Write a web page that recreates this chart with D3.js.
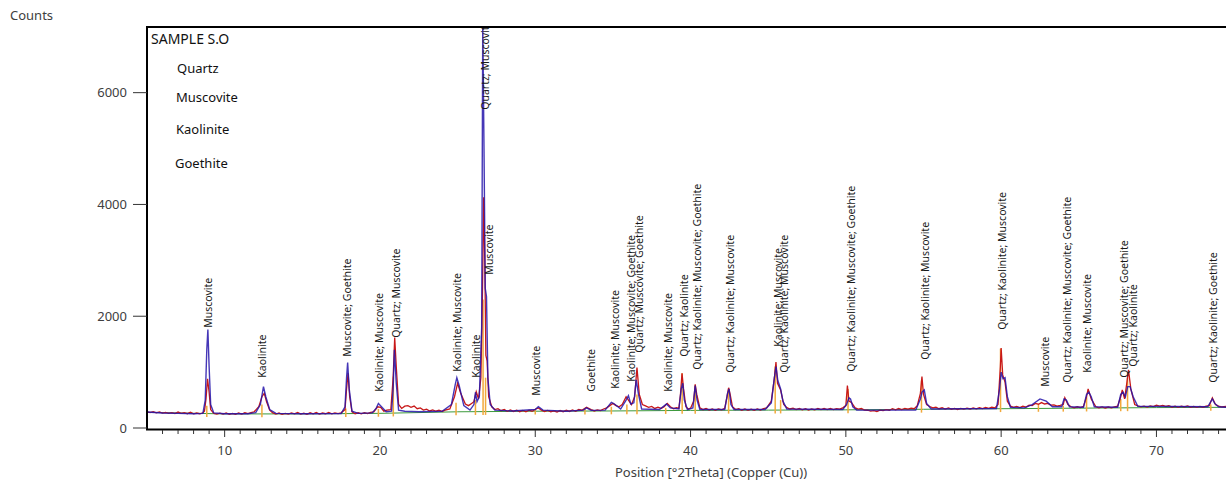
<!DOCTYPE html>
<html>
<head>
<meta charset="utf-8">
<script src="https://cdn.jsdelivr.net/npm/d3@7"></script>
<style>
  body { margin: 0; background: #fff; }
  svg { display: block; font-family: "Noto Sans", "Open Sans", sans-serif; }
  .axis text { fill: #404040; font-size: 13px; }
  .peak-label { font-size: 10.5px; fill: #1a1a1a; }
  .legend text { fill: #111; font-size: 13px; }
</style>
</head>
<body>
<div id="chart"></div>
<script>
// observed pattern (red), [2theta, counts]
const observed = [
  [5.0,290],[5.2,276],[5.4,292],[5.6,270],[5.8,288],[6.0,266],[6.2,280],[6.4,262],[6.6,276],[6.8,258],
  [7.0,285],[7.2,262],[7.4,274],[7.6,256],[7.8,282],[8.0,252],[8.2,268],[8.4,255],[8.6,272],
  [8.7,300],[8.8,520],[8.9,880],[9.0,640],[9.1,330],[9.3,262],[9.5,248],[9.7,266],[9.9,250],[10.1,270],
  [10.3,246],[10.5,262],[10.7,244],[10.9,268],[11.1,250],[11.3,272],[11.5,256],[11.7,275],
  [11.9,290],[12.2,380],[12.4,560],[12.55,620],[12.7,470],[12.9,320],[13.1,270],[13.3,250],[13.5,268],[13.7,246],
  [13.9,262],[14.1,248],[14.3,270],[14.5,252],[14.7,276],[14.9,250],[15.1,266],[15.3,246],[15.5,272],[15.7,254],
  [15.9,276],[16.1,250],[16.3,268],[16.5,255],[16.7,280],[16.9,252],[17.1,270],[17.3,256],[17.5,272],
  [17.75,330],[17.85,700],[17.95,980],[18.05,560],[18.2,290],[18.4,256],[18.6,272],[18.8,254],[19.0,276],[19.2,258],
  [19.4,280],[19.6,290],[19.85,380],[20.05,370],[20.25,300],[20.45,320],[20.7,330],[20.85,900],[20.95,1620],
  [21.05,1100],[21.2,420],[21.4,350],[21.6,390],[21.8,400],[22.0,370],[22.2,392],[22.4,345],[22.6,360],[22.8,322],
  [23.0,338],[23.2,305],[23.4,325],[23.6,300],[23.8,318],[24.0,296],[24.2,320],[24.5,340],
  [24.8,560],[25.0,800],[25.2,620],[25.5,430],[25.7,400],[25.9,440],[26.05,470],[26.2,650],[26.35,520],[26.5,900],[26.6,2400],
  [26.68,4130],[26.75,3000],[26.82,1300],[26.9,1200],[27.0,560],[27.2,380],[27.4,330],[27.6,345],[27.8,310],[28.0,330],
  [28.2,300],[28.4,322],[28.6,296],[28.8,318],[29.0,292],[29.2,314],[29.4,290],[29.6,318],[29.8,300],[30.0,335],
  [30.2,360],[30.4,320],[30.6,296],[30.8,315],[31.0,288],[31.2,306],[31.4,285],[31.6,312],[31.8,292],[32.0,318],
  [32.2,296],[32.4,322],[32.6,300],[32.8,330],[33.0,318],[33.3,370],[33.6,330],[33.8,305],[34.0,325],[34.2,310],
  [34.4,340],[34.6,360],[34.8,400],[35.0,440],[35.2,400],[35.4,380],[35.6,420],[35.85,560],[36.0,500],[36.2,420],
  [36.4,560],[36.55,1080],[36.7,600],[36.9,420],[37.1,395],[37.3,370],[37.5,385],[37.7,350],[37.9,372],[38.1,350],
  [38.3,380],[38.5,440],[38.7,380],[38.9,345],[39.1,362],[39.25,350],[39.35,600],[39.45,980],[39.55,700],
  [39.7,380],[39.85,340],[40.0,355],[40.2,480],[40.3,780],[40.4,600],[40.6,360],[40.8,328],[41.0,348],[41.2,322],
  [41.4,342],[41.6,318],[41.8,340],[42.0,325],[42.2,350],[42.35,560],
  [42.45,720],[42.55,600],[42.7,380],[42.9,330],[43.1,346],[43.3,318],[43.5,340],[43.7,315],[43.9,338],[44.1,318],
  [44.3,342],[44.5,322],[44.7,348],[44.9,360],[45.2,480],[45.4,900],[45.5,1180],[45.6,800],
  [45.8,680],[46.0,420],[46.2,365],[46.4,340],[46.6,356],[46.8,330],[47.0,348],[47.2,325],[47.4,345],[47.6,322],
  [47.8,340],[48.0,326],[48.2,350],[48.4,328],[48.6,348],[48.8,330],[49.0,352],[49.2,330],[49.4,345],[49.6,336],
  [49.8,360],[50.0,400],[50.1,760],[50.2,480],[50.35,460],[50.6,360],[50.8,338],[51.0,348],[51.2,320],[51.4,318],
  [51.6,302],[51.8,312],[52.0,296],[52.2,318],[52.4,310],[52.6,330],[52.8,318],[53.0,345],[53.2,326],[53.4,348],
  [53.6,330],[53.8,352],[54.0,336],[54.2,356],[54.4,345],[54.6,400],
  [54.8,620],[54.9,920],[55.0,600],[55.2,420],[55.4,385],[55.6,360],[55.8,372],[56.0,345],[56.2,362],[56.4,340],
  [56.6,358],[56.8,336],[57.0,352],[57.2,332],[57.4,350],[57.6,338],[57.8,356],[58.0,340],[58.2,360],[58.4,342],
  [58.6,362],[58.8,346],[59.0,366],[59.2,350],[59.4,372],[59.6,360],
  [59.8,420],[59.95,1100],[60.0,1430],[60.1,950],[60.25,820],[60.4,480],[60.6,390],[60.8,370],[61.0,385],[61.2,365],
  [61.4,390],[61.6,375],[61.8,410],[62.0,400],[62.2,440],[62.4,425],[62.6,455],[62.8,430],[63.0,440],[63.2,410],
  [63.4,415],[63.6,392],[63.8,405],[64.0,420],[64.1,540],[64.3,420],[64.5,380],[64.7,362],[64.9,380],[65.1,366],
  [65.3,385],[65.5,560],[65.6,700],[65.8,520],
  [66.1,380],[66.3,362],[66.5,378],[66.7,358],[66.9,375],[67.1,362],[67.3,380],[67.5,390],[67.7,560],[67.8,680],
  [67.95,520],[68.1,820],[68.2,1040],[68.35,700],[68.6,420],[68.8,395],[69.0,378],[69.2,392],[69.4,375],[69.6,396],
  [69.8,382],[70.0,410],[70.2,392],[70.4,405],[70.6,385],[70.8,398],[71.0,372],[71.2,390],[71.4,370],[71.6,392],
  [71.8,376],[72.0,396],[72.2,372],[72.4,388],[72.6,368],[72.8,386],[73.0,372],[73.2,392],[73.4,400],[73.6,540],
  [73.8,420],[74.0,392],[74.2,378],[74.5,385]
];

// calculated profile (blue)
const calculated = [
  [5.0,285],[6.0,268],[7.0,262],[8.0,256],[8.6,262],[8.75,500],[8.85,1400],[8.92,1760],[9.0,1100],[9.1,420],
  [9.3,270],[10,255],[11.5,255],[12.0,275],[12.3,420],[12.5,740],[12.65,560],[12.9,330],[13.3,262],[15,255],
  [17.5,258],[17.75,380],[17.85,900],[17.92,1170],[18.02,700],[18.2,300],[18.6,262],[19.5,270],[19.75,350],[19.9,440],
  [20.1,380],[20.4,290],[20.75,300],[20.85,700],[20.93,1400],[21.05,800],[21.2,320],[21.6,300],[22.5,290],[24.0,300],
  [24.6,420],[24.85,780],[24.95,900],[25.1,760],[25.4,400],[25.8,320],[26.05,420],[26.15,640],[26.25,470],[26.4,560],
  [26.55,1800],[26.62,7300],[26.7,5000],[26.78,2500],[26.86,2350],[26.95,900],[27.1,420],[27.4,320],[28.5,305],[30.0,330],
  [30.2,380],[30.5,320],[32.0,300],[33.1,320],[33.3,360],[33.6,315],[34.5,320],[34.9,460],[35.1,430],[35.5,340],
  [35.85,500],[36.0,580],[36.15,430],[36.35,450],[36.5,860],[36.65,600],[36.85,340],[38.0,330],[38.45,430],[38.7,360],
  [39.25,340],[39.4,700],[39.5,800],[39.6,500],[39.8,330],[40.15,360],[40.3,760],[40.42,500],[40.6,330],[42.2,330],
  [42.38,620],[42.48,700],[42.6,420],[42.8,330],[44.8,330],[45.2,450],[45.4,900],[45.5,1100],[45.62,850],[45.8,700],
  [45.95,480],[46.2,340],[49.8,330],[50.05,420],[50.2,540],[50.3,520],[50.45,380],[50.7,320],[54.5,320],[54.8,520],
  [54.9,640],[55.05,680],[55.2,440],[55.5,340],[59.7,350],[59.9,700],[60.0,1000],[60.12,880],[60.25,900],[60.4,560],
  [60.6,370],[61.5,360],[62.0,420],[62.5,520],[62.9,480],[63.3,380],[63.9,380],[64.05,520],[64.2,500],[64.4,380],
  [65.3,370],[65.5,600],[65.65,640],[65.8,560],[66.0,380],[67.5,370],[67.7,600],[67.85,640],[68.0,560],[68.15,740],
  [68.3,740],[68.5,560],[68.8,390],[73.3,380],[73.6,520],[73.75,440],[74.0,380],[74.5,370]
];

// fitted background (green)
const background = [
  [5,280],[10,252],[15,252],[20,262],[25,290],[30,300],[35,305],[40,315],[45,320],[50,325],
  [55,335],[60,345],[65,355],[70,365],[74.5,370]
];

// reference pattern sticks: [2theta, counts]
const sticks = [
  [8.85,400],[12.4,420],[17.8,350],[19.9,340],[20.86,920],[24.9,450],[26.15,500],[26.64,2300],[26.8,900],[30.0,330],
  [33.2,340],[34.9,380],[35.9,420],[36.55,600],[38.4,360],[39.46,980],[40.3,760],[42.45,700],[45.45,1100],[45.8,500],
  [50.14,700],[54.87,850],[59.96,1420],[62.4,420],[64.0,400],[65.5,560],[67.7,520],[68.14,900],[73.5,420]
];

// peak identification labels: [2theta, counts at label foot, text]
const peakLabels = [
  [8.97,1794,"Muscovite"],
  [12.45,900,"Kaolinite"],
  [17.92,1276,"Muscovite; Goethite"],
  [19.98,649,"Kaolinite; Muscovite"],
  [21.08,1615,"Quartz; Muscovite"],
  [25.0,1007,"Kaolinite; Muscovite"],
  [26.23,900,"Kaolinite"],
  [26.8,5694,"Quartz; Muscovite"],
  [27.06,2744,"Muscovite"],
  [30.09,578,"Muscovite"],
  [33.63,649,"Goethite"],
  [35.18,703,"Kaolinite; Muscovite"],
  [36.21,828,"Kaolinite; Muscovite; Goethite"],
  [36.72,1347,"Quartz; Muscovite; Goethite"],
  [38.59,649,"Kaolinite; Muscovite"],
  [39.62,1276,"Quartz; Kaolinite"],
  [40.46,1043,"Quartz; Kaolinite; Muscovite; Goethite"],
  [42.58,989,"Quartz; Kaolinite; Muscovite"],
  [45.67,1454,"Kaolinite; Muscovite"],
  [46.06,989,"Quartz; Kaolinite; Muscovite"],
  [50.37,1007,"Quartz; Kaolinite; Muscovite; Goethite"],
  [55.14,1222,"Quartz; Kaolinite; Muscovite"],
  [60.10,1758,"Quartz; Kaolinite; Muscovite"],
  [62.87,739,"Muscovite"],
  [64.28,810,"Quartz; Kaolinite; Muscovite; Goethite"],
  [65.57,989,"Kaolinite; Muscovite"],
  [67.95,900,"Quartz; Muscovite; Goethite"],
  [68.53,1097,"Quartz; Kaolinite"],
  [73.68,810,"Quartz; Kaolinite; Goethite"]
];

const sampleName = "SAMPLE S.O";
const phases = ["Quartz", "Muscovite", "Kaolinite", "Goethite"];
const xTicks = [10, 20, 30, 40, 50, 60, 70];
const yTicks = [0, 2000, 4000, 6000];

const width = 1226, height = 481;
const margin = {top: 27, left: 147, bottom: 53};
const plotRight = 1240;

const svg = d3.select("#chart").append("svg")
  .attr("width", width)
  .attr("height", height);

const x = d3.scaleLinear().domain([5, 75]).range([margin.left, margin.left + 70 * 15.53]);
const y = d3.scaleLinear().domain([0, 7175]).range([428, margin.top]);

svg.append("clipPath").attr("id", "plot-clip")
  .append("rect")
  .attr("x", margin.left).attr("y", margin.top)
  .attr("width", plotRight - margin.left).attr("height", 429 - margin.top);

const plot = svg.append("g").attr("clip-path", "url(#plot-clip)");

const line = d3.line().x(d => x(d[0])).y(d => y(d[1]));

// background
plot.append("path").datum(background)
  .attr("fill", "none").attr("stroke", "#3c9a3c").attr("stroke-width", 1)
  .attr("d", line);

// reference sticks
const bgAt = d3.scaleLinear().domain(background.map(d => d[0])).range(background.map(d => d[1]));
plot.selectAll(".stick").data(sticks).enter().append("line")
  .attr("class", "stick")
  .attr("x1", d => x(d[0])).attr("x2", d => x(d[0]))
  .attr("y1", d => y(bgAt(d[0]) - 60)).attr("y2", d => y(d[1]))
  .attr("stroke", "#f2a93b").attr("stroke-width", 1.5);

// observed
plot.append("path").datum(observed)
  .attr("fill", "none").attr("stroke", "#c81818").attr("stroke-width", 1.3)
  .attr("d", line);

// calculated
plot.append("path").datum(calculated)
  .attr("fill", "none").attr("stroke", "#2414aa").attr("stroke-width", 1.4)
  .attr("stroke-opacity", 0.85)
  .attr("d", line);

// peak labels
plot.selectAll(".peak-label").data(peakLabels).enter().append("text")
  .attr("class", "peak-label")
  .attr("transform", d => "translate(" + x(d[0]) + "," + y(d[1]) + ") rotate(-90)")
  .attr("dy", "0.35em")
  .text(d => d[2]);

// frame
svg.append("path")
  .attr("d", "M" + plotRight + "," + margin.top + "H" + margin.left + "V429.5H" + plotRight)
  .attr("fill", "none").attr("stroke", "#000").attr("stroke-width", 2);

// x axis
const xAxis = svg.append("g").attr("class", "axis")
  .attr("transform", "translate(0,430)");
xAxis.selectAll(".minor").data(d3.range(6, 75)).enter().append("line")
  .attr("x1", d => x(d)).attr("x2", d => x(d))
  .attr("y1", 0).attr("y2", d => d % 10 === 0 ? 7 : 4)
  .attr("stroke", "#333").attr("stroke-width", 1);
xAxis.selectAll(".tick-label").data(xTicks).enter().append("text")
  .attr("x", d => x(d)).attr("y", 25)
  .attr("text-anchor", "middle")
  .text(d => d);

// y axis
const yAxis = svg.append("g").attr("class", "axis");
yAxis.selectAll(".ytick").data(yTicks).enter().append("line")
  .attr("x1", 133).attr("x2", margin.left)
  .attr("y1", d => y(d)).attr("y2", d => y(d))
  .attr("stroke", "#333").attr("stroke-width", 1);
yAxis.selectAll(".ylabel").data(yTicks).enter().append("text")
  .attr("x", 127).attr("y", d => y(d))
  .attr("dy", "0.35em").attr("text-anchor", "end")
  .text(d => d);

svg.append("text").attr("class", "axis")
  .attr("x", 10).attr("y", 20)
  .style("font-size", "13px").style("fill", "#404040")
  .text("Counts");

svg.append("text")
  .attr("x", 711).attr("y", 477)
  .attr("text-anchor", "middle")
  .style("font-size", "13px").style("fill", "#404040")
  .text("Position [°2Theta] (Copper (Cu))");

// legend
const legend = svg.append("g").attr("class", "legend");
legend.append("text").attr("x", 151).attr("y", 44)
  .style("font-size", "14px").text(sampleName);
const legendPos = [[177, 73], [176, 102], [176, 134], [175, 168]];
legend.selectAll(".phase").data(phases).enter().append("text")
  .attr("x", (d, i) => legendPos[i][0]).attr("y", (d, i) => legendPos[i][1])
  .text(d => d);
</script>
</body>
</html>
